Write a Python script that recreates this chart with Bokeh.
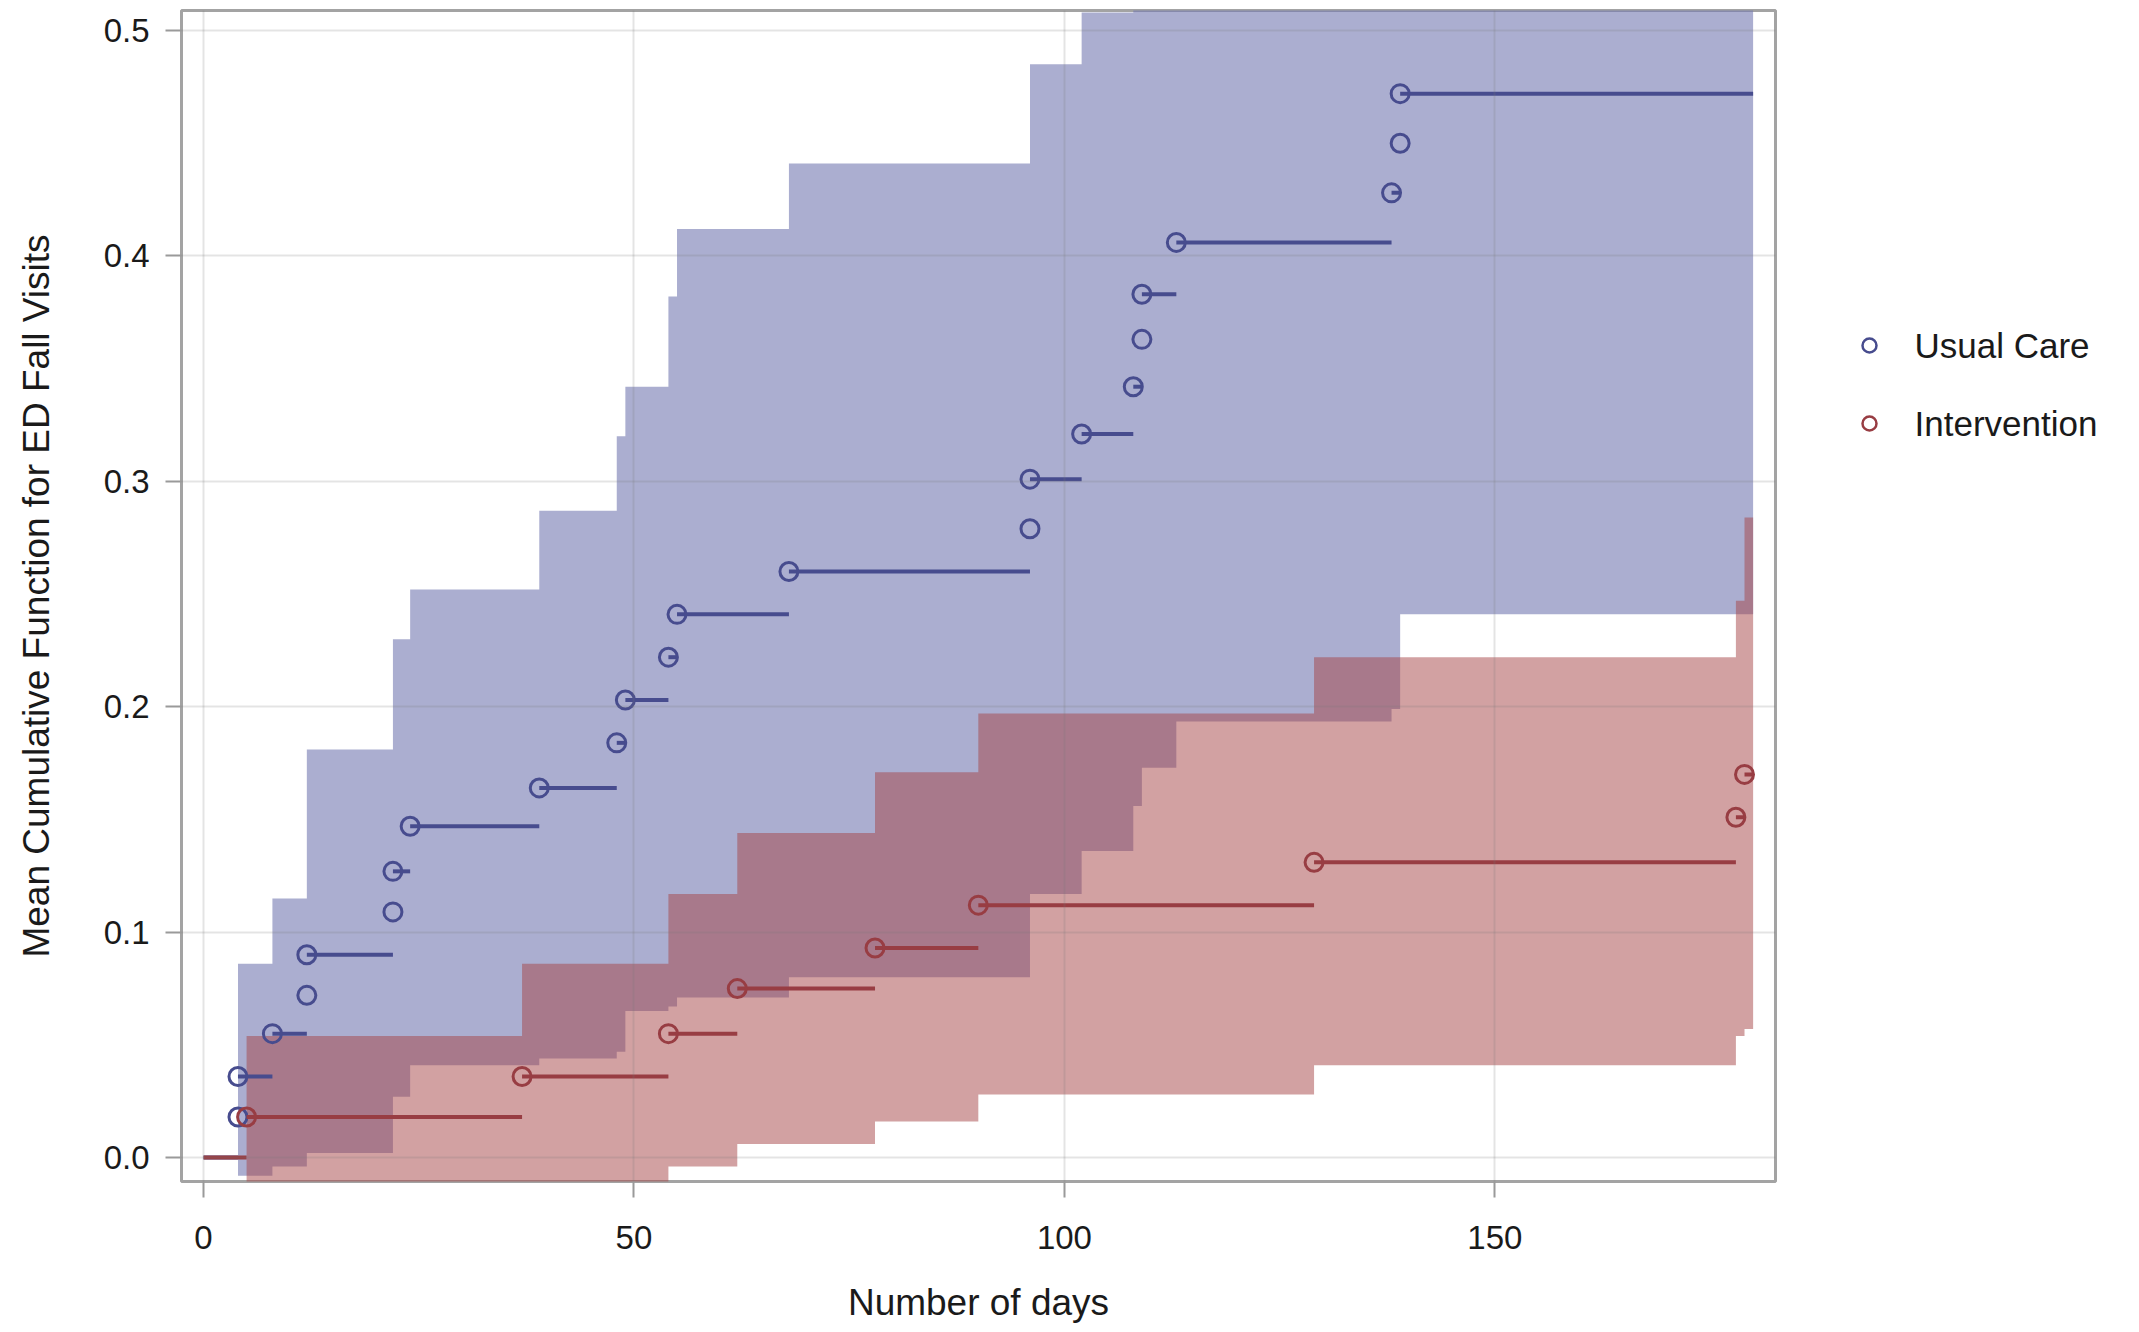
from bokeh.plotting import figure
from bokeh.layouts import row
from bokeh.models import Range1d, FixedTicker, NumeralTickFormatter
from bokeh.core.properties import value
from bokeh.embed import file_html
from bokeh.resources import INLINE

# ---------------- data ----------------
# Usual Care: event days and mean cumulative function at each event
uc_days = [4, 4, 8, 12, 12, 22, 22, 24, 39, 48, 49, 54, 55, 68, 96, 96, 102, 108, 109, 109, 113, 138, 139, 139]
uc_mcf = [0.018, 0.036, 0.055, 0.072, 0.090, 0.109, 0.127, 0.147, 0.164, 0.184, 0.203, 0.222,
          0.241, 0.260, 0.279, 0.301, 0.321, 0.342, 0.363, 0.383, 0.406, 0.428, 0.450, 0.472]

# Intervention
iv_days = [5, 37, 54, 62, 78, 90, 129, 178, 179]
iv_mcf = [0.018, 0.036, 0.055, 0.075, 0.093, 0.112, 0.131, 0.151, 0.170]

end_day = 180

# confidence bands (step functions, value holds from day until next day)
uc_band_days = [4, 8, 12, 22, 24, 39, 48, 49, 54, 55, 68, 96, 102, 108, 109, 113, 138, 139, 180]
uc_upper = [0.086, 0.115, 0.181, 0.230, 0.252, 0.287, 0.320, 0.342, 0.382, 0.412, 0.441, 0.485,
            0.508, 0.535, 0.560, 0.585, 0.610, 0.640, 0.640]
uc_lower = [-0.008, -0.004, 0.002, 0.027, 0.041, 0.044, 0.047, 0.065, 0.067, 0.071, 0.080, 0.117,
            0.136, 0.156, 0.173, 0.1935, 0.199, 0.241, 0.241]

iv_band_days = [5, 37, 54, 62, 78, 90, 129, 178, 179, 180]
iv_upper = [0.054, 0.086, 0.117, 0.144, 0.171, 0.197, 0.222, 0.247, 0.284, 0.284]
iv_lower = [-0.030, -0.020, -0.004, 0.006, 0.016, 0.028, 0.041, 0.054, 0.057, 0.057]

x_ticks = [0, 50, 100, 150]
y_ticks = [0.0, 0.1, 0.2, 0.3, 0.4, 0.5]

group_names = ["Usual Care", "Intervention"]

# ---------------- styling ----------------
UC_BAND, UC_BAND_ALPHA = "#7378B1", 0.6
IV_BAND, IV_BAND_ALPHA = "#A54446", 0.5
UC_LINE = "#474C8E"
IV_LINE = "#983D43"
FONT = "Liberation Sans"

p = figure(frame_width=1594, frame_height=1171, output_backend="svg", toolbar_location=None,
           x_range=Range1d(-2.56, 182.6), y_range=Range1d(-0.0106, 0.5089),
           min_border_left=181, min_border_right=4, min_border_top=10, min_border_bottom=144)
p.background_fill_color = "white"
p.border_fill_color = "white"
p.outline_line_color = "#A3A3A3"
p.outline_line_width = 3

# bands
p.varea_step(x=uc_band_days, y1=uc_lower, y2=uc_upper, step_mode="after",
             fill_color=UC_BAND, fill_alpha=UC_BAND_ALPHA)
p.varea_step(x=iv_band_days, y1=iv_lower, y2=iv_upper, step_mode="after",
             fill_color=IV_BAND, fill_alpha=IV_BAND_ALPHA)

# step lines (horizontal segments from each event to the next)
def segs(days, vals):
    x0 = [0] + list(days)
    x1 = list(days) + [end_day]
    y = [0.0] + list(vals)
    return x0, x1, y

ux0, ux1, uy = segs(uc_days, uc_mcf)
ix0, ix1, iy = segs(iv_days, iv_mcf)
p.segment(x0=ux0, y0=uy, x1=ux1, y1=uy, line_color=UC_LINE, line_width=4)
p.scatter(x=uc_days, y=uc_mcf, marker="circle", size=18, fill_color=None,
          line_color=UC_LINE, line_width=3)
p.segment(x0=ix0, y0=iy, x1=ix1, y1=iy, line_color=IV_LINE, line_width=4)
p.scatter(x=iv_days, y=iv_mcf, marker="circle", size=18, fill_color=None,
          line_color=IV_LINE, line_width=3)

# grid
for g in (p.xgrid, p.ygrid):
    g.grid_line_color = "#7A7A7A"
    g.grid_line_alpha = 0.2
    g.grid_line_width = 2
    g.level = "guide"
p.xgrid.ticker = FixedTicker(ticks=x_ticks)
p.ygrid.ticker = FixedTicker(ticks=y_ticks)

# axes
p.xaxis.ticker = FixedTicker(ticks=x_ticks)
p.yaxis.ticker = FixedTicker(ticks=y_ticks)
p.yaxis.formatter = NumeralTickFormatter(format="0.0")
for ax in (p.xaxis[0], p.yaxis[0]):
    ax.axis_line_color = None
    ax.major_tick_line_color = "#9A9A9A"
    ax.major_tick_line_width = 2
    ax.major_tick_out = 16
    ax.major_tick_in = 0
    ax.minor_tick_line_color = None
    ax.major_label_text_font = FONT
    ax.major_label_text_font_size = "33px"
    ax.major_label_text_color = "#1A1A1A"
    ax.axis_label_text_font = FONT
    ax.axis_label_text_font_size = "37px"
    ax.axis_label_text_font_style = "normal"
    ax.axis_label_text_color = "#1A1A1A"
p.xaxis.axis_label = "Number of days"
p.yaxis.axis_label = "Mean Cumulative Function for ED Fall Visits"
p.xaxis.major_label_standoff = 28
p.yaxis.major_label_standoff = 16
p.xaxis.axis_label_standoff = 30
p.yaxis.axis_label_standoff = 44

# ---------------- legend (separate panel to the right of the plot) ----------------
LEG_W, LEG_H = 356, 1325
leg = figure(frame_width=LEG_W, frame_height=LEG_H, output_backend="svg", toolbar_location=None,
             x_range=Range1d(0, LEG_W), y_range=Range1d(LEG_H, 0),
             x_axis_type=None, y_axis_type=None,
             min_border=0, outline_line_color=None)
leg.grid.visible = False
leg.background_fill_color = "white"
leg.border_fill_color = "white"
leg_y = [335, 413]
leg.scatter(x=[90, 90], y=leg_y, marker="circle", size=14, fill_color=None,
            line_color=[UC_LINE, IV_LINE], line_width=2.5)
leg.text(x=[135, 135], y=leg_y, text=group_names, text_font=value(FONT),
         text_font_size="35px", text_color="#1A1A1A", text_baseline="middle",
         text_align="left")

layout = row(p, leg, spacing=0)
open("out.html", "w").write(file_html(layout, INLINE))
